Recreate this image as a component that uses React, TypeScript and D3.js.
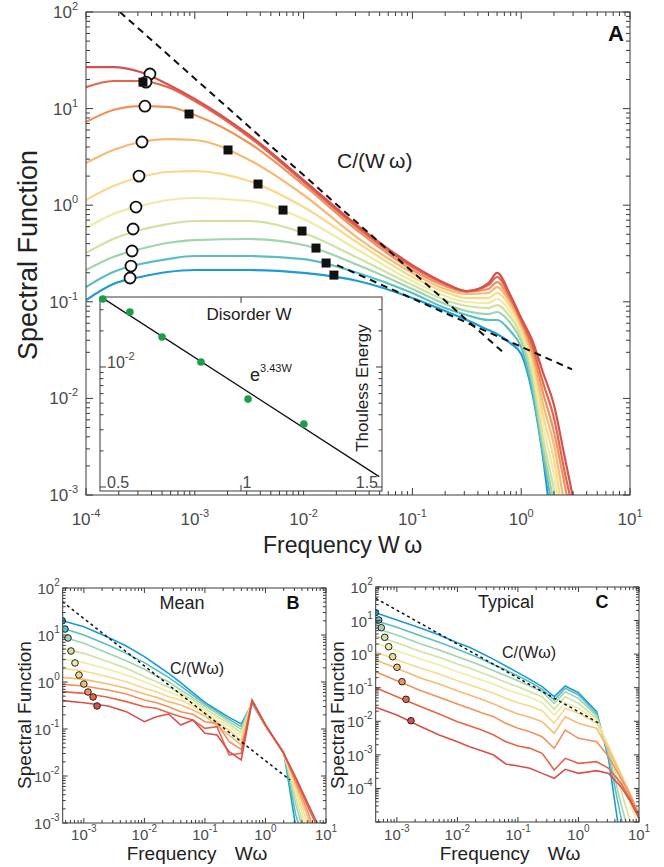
import React, { useEffect, useRef } from "react";
import * as d3 from "d3";

const FONT = "'Liberation Sans', Arial, Helvetica, sans-serif";

// one colour per disorder strength, strongest (red) to weakest (blue)
const disorderColors = ["#d5504f", "#e5654a", "#f0925c", "#f5ba74", "#f8d98c", "#eeeba6", "#cfe2a0", "#a0d4ae", "#5dbec0", "#1d9bd6"];

// ---------- panel A : spectral function vs frequency W*omega ----------
const freqA = [1e-4, 1.78e-4, 3.16e-4, 5.62e-4, 1e-3, 3.16e-3, 1e-2, 3.16e-2, 0.1, 0.2, 0.316, 0.5, 0.6, 0.794, 1, 1.26, 1.58, 2.0, 2.51, 3.16];
const specA1 = [26.9, 26.9, 23.9, 17.9, 12.6, 5.33, 1.82, 0.609, 0.24, 0.156, 0.129, 0.156, 0.199, 0.1175, 0.0679, 0.0402, 0.01876, 0.00854, 0.00247, 0.000699];
const specA2 = [16.7, 19.3, 19.3, 16.7, 11.98, 5.08, 1.74, 0.58, 0.229, 0.153, 0.129, 0.149, 0.1805, 0.112, 0.0648, 0.0357, 0.01477, 0.00626, 0.00173, 0.00055];
const specA3 = [7.26, 9.67, 10.6, 10.4, 8.58, 4.4, 1.62, 0.54, 0.2133, 0.1457, 0.1263, 0.1356, 0.1602, 0.1043, 0.0618, 0.0317, 0.01164, 0.00449, 0.00127, 0.000342];
const specA4 = [2.73, 3.73, 4.51, 4.84, 4.73, 2.94, 1.275, 0.457, 0.199, 0.1356, 0.1204, 0.1233, 0.1422, 0.0971, 0.0575, 0.0281, 0.00896, 0.00329, 0.000788, 0.000212];
const specA5 = [1.131, 1.579, 1.957, 2.205, 2.258, 1.78, 0.957, 0.406, 0.1805, 0.1263, 0.1094, 0.1094, 0.1233, 0.0883, 0.0535, 0.025, 0.00689, 0.0023, 0.000489, 0.000132];
const specA6 = [0.58, 0.81, 0.98, 1.131, 1.187, 1.105, 0.719, 0.3436, 0.1641, 0.1148, 0.0995, 0.0971, 0.1069, 0.0784, 0.0487, 0.02164, 0.0053, 0.00161, 0.000342, 0.0000818];
const specA7 = [0.32, 0.4467, 0.553, 0.638, 0.686, 0.686, 0.515, 0.284, 0.149, 0.1043, 0.0904, 0.0862, 0.0926, 0.0696, 0.0442, 0.01876, 0.00398, 0.001126, 0.000212, 0.0000508];
const specA8 = [0.2133, 0.2908, 0.352, 0.406, 0.436, 0.4467, 0.387, 0.24, 0.1356, 0.0948, 0.0802, 0.0747, 0.0784, 0.0603, 0.0393, 0.0155, 0.00329, 0.000788, 0.000132, 0.0000315];
const specA9 = [0.1422, 0.2034, 0.246, 0.277, 0.2978, 0.2978, 0.277, 0.199, 0.1233, 0.0862, 0.0729, 0.0648, 0.0648, 0.0498, 0.034, 0.0128, 0.00279, 0.00055, 0.0000818, 0.0000196];
const specA10 = [0.1043, 0.153, 0.1805, 0.2034, 0.2133, 0.2133, 0.199, 0.1641, 0.1094, 0.0802, 0.0648, 0.051, 0.0464, 0.0374, 0.0288, 0.01164, 0.00253, 0.000304, 0.0000508, 0.0000122];
const specA = [specA1, specA2, specA3, specA4, specA5, specA6, specA7, specA8, specA9, specA10];

// open circles (one per curve) and filled squares (curves 2..10)
const circleAx = [3.87e-4, 3.56e-4, 3.48e-4, 3.27e-4, 3.07e-4, 2.88e-4, 2.71e-4, 2.65e-4, 2.59e-4, 2.54e-4];
const circleAy = [22.8, 18.8, 10.6, 4.51, 2.0, 0.957, 0.567, 0.3355, 0.2346, 0.1763];
const squareAx = [3.34e-4, 8.85e-4, 2.02e-3, 3.81e-3, 6.47e-3, 9.67e-3, 0.013, 0.0161, 0.019];
const squareAy = [18.8, 8.79, 3.73, 1.656, 0.891, 0.54, 0.36, 0.252, 0.189];

// dashed guide lines (end points)
const guideA1x = [2.05e-4, 0.68];
const guideA1y = [100, 0.0301];
const guideA2x = [0.0203, 2.93];
const guideA2y = [0.24, 0.02];

// inset: Thouless energy vs disorder
const disorderW = [0.51, 0.606, 0.72, 0.858, 1.025, 1.223];
const thoulessE = [0.0369, 0.0287, 0.0178, 0.011, 0.0054, 0.00335];
const fitW = [0.51, 1.49];
const fitE = [0.0375, 0.00122];

// ---------- panels B and C (blue curve first, red last) ----------
const freqBC = [4.47e-4, 1e-3, 2.51e-3, 5.01e-3, 1e-2, 1.58e-2, 2.51e-2, 3.98e-2, 6.31e-2, 0.1, 0.158, 0.251, 0.398, 0.603, 1, 2.0, 3.16, 5.01, 7.08, 10];

const meanB1 = [20.2, 15.0, 8.92, 5.83, 3.46, 2.3, 1.529, 0.968, 0.593, 0.369, 0.2536, 0.1771, 0.1277, 0.352, 0.1121, 0.0329, 0.000835, 0.000163, 0.0000721, 0.0000319];
const meanB2 = [13.9, 10.0, 6.13, 4.07, 2.58, 1.8, 1.257, 0.822, 0.529, 0.34, 0.2337, 0.1606, 0.1121, 0.363, 0.1121, 0.0329, 0.0015, 0.000226, 0.0000721, 0.0000319];
const meanB3 = [9.21, 6.65, 4.07, 2.84, 1.86, 1.341, 1.016, 0.676, 0.464, 0.309, 0.2154, 0.1432, 0.0985, 0.375, 0.1121, 0.0324, 0.00249, 0.000314, 0.0000721, 0.0000319];
const meanB4 = [5.2, 4.07, 2.71, 1.953, 1.298, 1.016, 0.77, 0.574, 0.414, 0.2753, 0.189, 0.1277, 0.0835, 0.382, 0.1139, 0.0319, 0.00346, 0.000435, 0.0000721, 0.0000319];
const meanB5 = [3.09, 2.58, 1.86, 1.409, 1.016, 0.796, 0.623, 0.487, 0.363, 0.2455, 0.1659, 0.1121, 0.071, 0.388, 0.1158, 0.0314, 0.00456, 0.000654, 0.000163, 0.0000319];
const meanB6 = [1.953, 1.714, 1.298, 1.016, 0.733, 0.623, 0.487, 0.414, 0.309, 0.2154, 0.1432, 0.0952, 0.0583, 0.394, 0.1177, 0.0314, 0.00555, 0.000937, 0.000163, 0.0000319];
const meanB7 = [1.257, 1.139, 0.906, 0.733, 0.555, 0.472, 0.382, 0.324, 0.2536, 0.189, 0.1197, 0.0745, 0.0457, 0.401, 0.1197, 0.0309, 0.00665, 0.00134, 0.000266, 0.000052];
const meanB8 = [0.892, 0.822, 0.676, 0.555, 0.414, 0.363, 0.2986, 0.2337, 0.2051, 0.1432, 0.132, 0.0538, 0.0369, 0.407, 0.1217, 0.0303, 0.00757, 0.00174, 0.000435, 0.0001];
const meanB9 = [0.623, 0.574, 0.472, 0.382, 0.2986, 0.2753, 0.2226, 0.183, 0.1554, 0.1033, 0.1121, 0.028, 0.0303, 0.414, 0.1237, 0.0303, 0.00863, 0.00223, 0.000863, 0.000266];
const meanB10 = [0.401, 0.363, 0.309, 0.2337, 0.1432, 0.183, 0.2085, 0.1217, 0.1554, 0.0809, 0.0745, 0.0329, 0.0219, 0.382, 0.1217, 0.0303, 0.00937, 0.00262, 0.00102, 0.000369];
const meanB = [meanB1, meanB2, meanB3, meanB4, meanB5, meanB6, meanB7, meanB8, meanB9, meanB10];
const circleBx = [4.4e-4, 4.88e-4, 5.47e-4, 6.13e-4, 7.13e-4, 8.3e-4, 1.0e-3, 1.17e-3, 1.42e-3, 1.65e-3];
const circleBy = [20.1, 13.4, 8.63, 4.57, 2.54, 1.41, 0.906, 0.613, 0.48, 0.309];
const guideBx = [4.4e-4, 2.55];
const guideBy = [51.2, 0.00822];

const typC1 = [17.2, 10.4, 5.87, 3.72, 2.2, 1.595, 1.057, 0.7, 0.443, 0.2806, 0.1776, 0.1074, 0.0541, 0.1124, 0.0712, 0.01934, 0.000702, 2.31e-6, 2.35e-7, 7.6e-9];
const typC2 = [9.93, 6.29, 3.47, 2.25, 1.391, 1.01, 0.716, 0.486, 0.337, 0.2233, 0.148, 0.0895, 0.043, 0.0958, 0.0606, 0.01647, 0.000883, 0.0000144, 7.4e-7, 7.5e-8];
const typC3 = [5.87, 3.72, 2.0, 1.328, 0.841, 0.625, 0.453, 0.322, 0.2284, 0.1621, 0.1124, 0.0762, 0.0342, 0.0762, 0.0483, 0.01437, 0.00111, 0.0000359, 3.61e-6, 7.4e-7];
const typC4 = [3.47, 2.2, 1.185, 0.803, 0.509, 0.386, 0.2806, 0.2037, 0.1446, 0.1074, 0.0762, 0.0541, 0.0227, 0.0541, 0.0342, 0.01224, 0.001395, 0.0000897, 0.0000115, 2.31e-6];
const typC5 = [2.1, 1.269, 0.7, 0.475, 0.3005, 0.2284, 0.1697, 0.126, 0.0895, 0.068, 0.0517, 0.0358, 0.01538, 0.0358, 0.0243, 0.01092, 0.001752, 0.000178, 0.0000359, 7.26e-6];
const typC6 = [1.185, 0.669, 0.378, 0.2561, 0.1621, 0.1232, 0.0915, 0.068, 0.0483, 0.0358, 0.0285, 0.0207, 0.00869, 0.0243, 0.01724, 0.00869, 0.001752, 0.000281, 0.0000714, 0.0000144];
const typC7 = [0.669, 0.378, 0.1902, 0.129, 0.0816, 0.0606, 0.045, 0.0327, 0.0227, 0.01647, 0.01311, 0.00974, 0.00437, 0.01372, 0.00869, 0.00616, 0.001395, 0.000251, 0.0000714, 0.0000181];
const typC8 = [0.3005, 0.1621, 0.0816, 0.0517, 0.0327, 0.0243, 0.01805, 0.01372, 0.00869, 0.00616, 0.0049, 0.00348, 0.001563, 0.0055, 0.0031, 0.00247, 0.000883, 0.0002, 0.0000637, 0.0000162];
const typC9 = [0.1003, 0.0541, 0.0272, 0.01647, 0.00974, 0.0074, 0.0055, 0.0039, 0.00247, 0.001835, 0.001563, 0.00111, 0.000354, 0.000787, 0.000559, 0.000626, 0.000397, 0.000142, 0.0000507, 0.0000144];
const typC10 = [0.026, 0.01538, 0.00691, 0.0039, 0.00247, 0.001752, 0.001332, 0.00099, 0.000534, 0.000465, 0.000397, 0.000281, 0.0002, 0.00037, 0.000281, 0.000338, 0.000281, 0.000113, 0.0000432, 0.0000129];
const typicalC = [typC1, typC2, typC3, typC4, typC5, typC6, typC7, typC8, typC9, typC10];
const circleCx = [4.4e-4, 5.01e-4, 5.53e-4, 6.3e-4, 7.33e-4, 8.53e-4, 1.005e-3, 1.215e-3, 1.416e-3, 1.71e-3];
const circleCy = [17.2, 10.4, 6.13, 3.17, 1.666, 0.839, 0.406, 0.151, 0.0452, 0.0104];
const guideCx = [4.47e-4, 2.3];
const guideCy = [45.9, 0.0083];

type G = d3.Selection<SVGGElement, unknown, null, undefined>;
type LogS = d3.ScaleLogarithmic<number, number>;

interface FrameOpts {
  xExps: number[];
  yExps: number[];
  base: number;
  sup: number;
  rise: number;
  major: number;
  minor: number;
  xLabelY: number;
  yLabelGap: number;
  yLabelDrop: number;
}

// 1..9 x 10^k inside a domain
function logTicks(lo: number, hi: number) {
  const out: { v: number; major: boolean }[] = [];
  for (let k = Math.floor(Math.log10(lo)); k <= Math.ceil(Math.log10(hi)); k++) {
    for (let m = 1; m < 10; m++) {
      const v = m * Math.pow(10, k);
      if (v >= lo * 0.999 && v <= hi * 1.001) out.push({ v, major: m === 1 });
    }
  }
  return out;
}

function powerLabel(g: G, x: number, y: number, anchor: string, e: number, base: number, sup: number, rise: number) {
  const t = g.append("text")
    .attr("x", x).attr("y", y)
    .attr("text-anchor", anchor)
    .attr("font-size", base)
    .attr("fill", "#4a4a4a");
  t.append("tspan").text("10");
  t.append("tspan").attr("dy", -rise).attr("font-size", sup).text(String(e));
}

function drawFrame(g: G, x: LogS, y: LogS, o: FrameOpts) {
  const [left, right] = x.range();
  const [bottom, top] = y.range();
  const ax = g.append("g").attr("stroke", "#3a3a3a").attr("stroke-width", 1);
  const [xlo, xhi] = x.domain();
  logTicks(xlo, xhi).forEach((t) => {
    const px = x(t.v);
    const len = t.major ? o.major : o.minor;
    ax.append("line").attr("x1", px).attr("x2", px).attr("y1", bottom).attr("y2", bottom - len);
    ax.append("line").attr("x1", px).attr("x2", px).attr("y1", top).attr("y2", top + len);
  });
  const [ylo, yhi] = y.domain();
  logTicks(ylo, yhi).forEach((t) => {
    const py = y(t.v);
    const len = t.major ? o.major : o.minor;
    ax.append("line").attr("x1", left).attr("x2", left + len).attr("y1", py).attr("y2", py);
    ax.append("line").attr("x1", right).attr("x2", right - len).attr("y1", py).attr("y2", py);
  });
  ax.append("rect")
    .attr("x", left).attr("y", top)
    .attr("width", right - left).attr("height", bottom - top)
    .attr("fill", "none");
  o.xExps.forEach((e) => powerLabel(g, x(Math.pow(10, e)), o.xLabelY, "middle", e, o.base, o.sup, o.rise));
  o.yExps.forEach((e) => powerLabel(g, left - o.yLabelGap, y(Math.pow(10, e)) + o.yLabelDrop, "end", e, o.base, o.sup, o.rise));
}

function clipTo(svg: d3.Selection<SVGSVGElement, unknown, null, undefined>, id: string, x: LogS, y: LogS) {
  const [left, right] = x.range();
  const [bottom, top] = y.range();
  svg.append("clipPath").attr("id", id)
    .append("rect").attr("x", left).attr("y", top).attr("width", right - left).attr("height", bottom - top);
}

export default function App() {
  const ref = useRef<SVGSVGElement>(null);

  useEffect(() => {
    const svg = d3.select(ref.current as SVGSVGElement);
    svg.selectAll("*").remove();

    // ===== panel A =====
    const xA = d3.scaleLog().domain([1e-4, 10]).range([86, 630]);
    const yA = d3.scaleLog().domain([1e-3, 100]).range([495, 12]);
    clipTo(svg, "clipA", xA, yA);
    const gA = svg.append("g");
    const plotA = gA.append("g").attr("clip-path", "url(#clipA)");

    const lineA = d3.line<number>()
      .x((_, i) => xA(freqA[i]))
      .y((d) => yA(d))
      .curve(d3.curveMonotoneX);
    for (let k = specA.length - 1; k >= 0; k--) {
      plotA.append("path")
        .attr("d", lineA(specA[k]))
        .attr("fill", "none")
        .attr("stroke", disorderColors[k])
        .attr("stroke-width", 2.2);
    }

    const guide = (g: G, xs: number[], ys: number[], x: LogS, y: LogS, w: number, dash: string) =>
      g.append("line")
        .attr("x1", x(xs[0])).attr("y1", y(ys[0]))
        .attr("x2", x(xs[1])).attr("y2", y(ys[1]))
        .attr("stroke", "#111").attr("stroke-width", w)
        .attr("stroke-dasharray", dash);
    guide(plotA, guideA1x, guideA1y, xA, yA, 2, "7,5");
    guide(plotA, guideA2x, guideA2y, xA, yA, 2, "7,5");

    circleAx.forEach((cx, i) => {
      plotA.append("circle")
        .attr("cx", xA(cx)).attr("cy", yA(circleAy[i])).attr("r", 5.5)
        .attr("fill", "#fff").attr("stroke", "#111").attr("stroke-width", 1.8);
    });
    squareAx.forEach((sx, i) => {
      plotA.append("rect")
        .attr("x", xA(sx) - 4.5).attr("y", yA(squareAy[i]) - 4.5)
        .attr("width", 9).attr("height", 9)
        .attr("fill", "#111");
    });

    drawFrame(gA, xA, yA, {
      xExps: [-4, -3, -2, -1, 0, 1], yExps: [-3, -2, -1, 0, 1, 2],
      base: 17, sup: 11, rise: 8, major: 7, minor: 4,
      xLabelY: 525, yLabelGap: 8, yLabelDrop: 6,
    });

    gA.append("text").attr("x", 337).attr("y", 168).attr("font-size", 21).attr("fill", "#222").text("C/(W\u2009ω)");
    gA.append("text").attr("x", 616).attr("y", 41).attr("text-anchor", "middle")
      .attr("font-size", 22).attr("font-weight", "bold").attr("fill", "#111").text("A");
    gA.append("text").attr("transform", "translate(37,255) rotate(-90)").attr("text-anchor", "middle")
      .attr("font-size", 27).attr("fill", "#222").text("Spectral Function");
    gA.append("text").attr("x", 263).attr("y", 553).attr("font-size", 23).attr("fill", "#222").text("Frequency W\u2009ω");

    // inset
    const xI = d3.scaleLinear().domain([0.5, 1.5]).range([100, 382]);
    const yI = d3.scaleLog().domain([9.26e-4, 0.0383]).range([491, 297]);
    const gI = gA.append("g");
    gI.append("rect").attr("x", 100).attr("y", 297).attr("width", 282).attr("height", 194)
      .attr("fill", "#fff").attr("stroke", "#3a3a3a").attr("stroke-width", 1);
    logTicks(9.26e-4, 0.0383).forEach((t) => {
      const len = t.major ? 6 : 3.5;
      gI.append("line").attr("x1", 100).attr("x2", 100 + len).attr("y1", yI(t.v)).attr("y2", yI(t.v)).attr("stroke", "#3a3a3a");
      gI.append("line").attr("x1", 382).attr("x2", 382 - len).attr("y1", yI(t.v)).attr("y2", yI(t.v)).attr("stroke", "#3a3a3a");
    });
    [1].forEach((w) => {
      gI.append("line").attr("x1", xI(w)).attr("x2", xI(w)).attr("y1", 297).attr("y2", 303).attr("stroke", "#3a3a3a");
      gI.append("line").attr("x1", xI(w)).attr("x2", xI(w)).attr("y1", 491).attr("y2", 485).attr("stroke", "#3a3a3a");
    });
    gI.append("line")
      .attr("x1", xI(fitW[0])).attr("y1", yI(fitE[0]))
      .attr("x2", xI(fitW[1])).attr("y2", yI(fitE[1]))
      .attr("stroke", "#111").attr("stroke-width", 1.3);
    disorderW.forEach((w, i) => {
      gI.append("circle").attr("cx", xI(w)).attr("cy", yI(thoulessE[i])).attr("r", 3.8).attr("fill", "#1a9e48");
    });
    gI.append("text").attr("x", xI(0.5) + 7).attr("y", 488).attr("font-size", 16).attr("fill", "#4a4a4a").text("0.5");
    gI.append("text").attr("x", xI(1) + 6).attr("y", 488).attr("text-anchor", "middle").attr("font-size", 16).attr("fill", "#4a4a4a").text("1");
    gI.append("text").attr("x", xI(1.5) - 4).attr("y", 488).attr("text-anchor", "end").attr("font-size", 16).attr("fill", "#4a4a4a").text("1.5");
    powerLabel(gI, 107, yI(0.01) + 1, "start", -2, 16, 11, 8);
    gI.append("text").attr("x", 249).attr("y", 320).attr("text-anchor", "middle").attr("font-size", 17).attr("fill", "#222").text("Disorder W");
    const ex = gI.append("text").attr("x", 250).attr("y", 381).attr("font-size", 18).attr("fill", "#222");
    ex.append("tspan").text("e");
    ex.append("tspan").attr("dy", -9).attr("font-size", 11).text("3.43W");
    gI.append("text").attr("transform", "translate(368,388) rotate(-90)").attr("text-anchor", "middle")
      .attr("font-size", 17).attr("fill", "#222").text("Thouless Energy");

    // ===== panels B and C =====
    const small = (
      id: string, left: number, top: number, yLo: number, curves: number[][],
      cx: number[], cy: number[], gx: number[], gy: number[], yExps: number[],
      title: string, titleX: number, letter: string, letterX: number, guideTxtX: number, guideTxtY: number, ylabX: number
    ) => {
      const x = d3.scaleLog().domain([4.47e-4, 10]).range([left, left + 263.3]);
      const y = d3.scaleLog().domain([yLo, 100]).range([top + 235, top]);
      clipTo(svg, id, x, y);
      const g = svg.append("g");
      const plot = g.append("g").attr("clip-path", `url(#${id})`);
      const line = d3.line<number>().x((_, i) => x(freqBC[i])).y((d) => y(d));
      curves.forEach((c, k) => {
        plot.append("path").attr("d", line(c)).attr("fill", "none")
          .attr("stroke", disorderColors[9 - k]).attr("stroke-width", 1.6);
      });
      guide(plot, gx, gy, x, y, 1.5, "3,3");
      cx.forEach((v, i) => {
        plot.append("circle").attr("cx", x(v)).attr("cy", y(cy[i])).attr("r", 3.3)
          .attr("fill", disorderColors[9 - i]).attr("stroke", "#222").attr("stroke-width", 1);
      });
      drawFrame(g, x, y, {
        xExps: [-3, -2, -1, 0, 1], yExps,
        base: 15, sup: 10, rise: 8, major: 5, minor: 3,
        xLabelY: 840, yLabelGap: 3, yLabelDrop: 6,
      });
      g.append("text").attr("x", titleX).attr("y", top + 21).attr("text-anchor", "middle").attr("font-size", 18).attr("fill", "#222").text(title);
      g.append("text").attr("x", letterX).attr("y", top + 21).attr("text-anchor", "middle").attr("font-size", 18).attr("font-weight", "bold").attr("fill", "#111").text(letter);
      g.append("text").attr("x", guideTxtX).attr("y", guideTxtY).attr("text-anchor", "middle").attr("font-size", 16).attr("fill", "#222").text("C/(Wω)");
      g.append("text").attr("transform", `translate(${ylabX},715) rotate(-90)`).attr("text-anchor", "middle")
        .attr("font-size", 19).attr("fill", "#222").text("Spectral Function");
      g.append("text").attr("x", left + 64).attr("y", 860).attr("font-size", 19).attr("fill", "#222").text("Frequency");
      g.append("text").attr("x", left + 172).attr("y", 860).attr("font-size", 19).attr("fill", "#222").text("Wω");
    };

    small("clipB", 62.7, 588, 1e-3, meanB, circleBx, circleBy, guideBx, guideBy, [-3, -2, -1, 0, 1, 2],
      "Mean", 182, "B", 293, 197, 674, 31);
    small("clipC", 375.7, 587, 1e-5, typicalC, circleCx, circleCy, guideCx, guideCy, [-4, -3, -2, -1, 0, 1, 2],
      "Typical", 506, "C", 602, 529, 658, 344);
  }, []);

  return (
    <svg
      ref={ref}
      width={664}
      height={867}
      style={{ position: "absolute", left: 0, top: 0, background: "#fff", fontFamily: FONT }}
    />
  );
}
